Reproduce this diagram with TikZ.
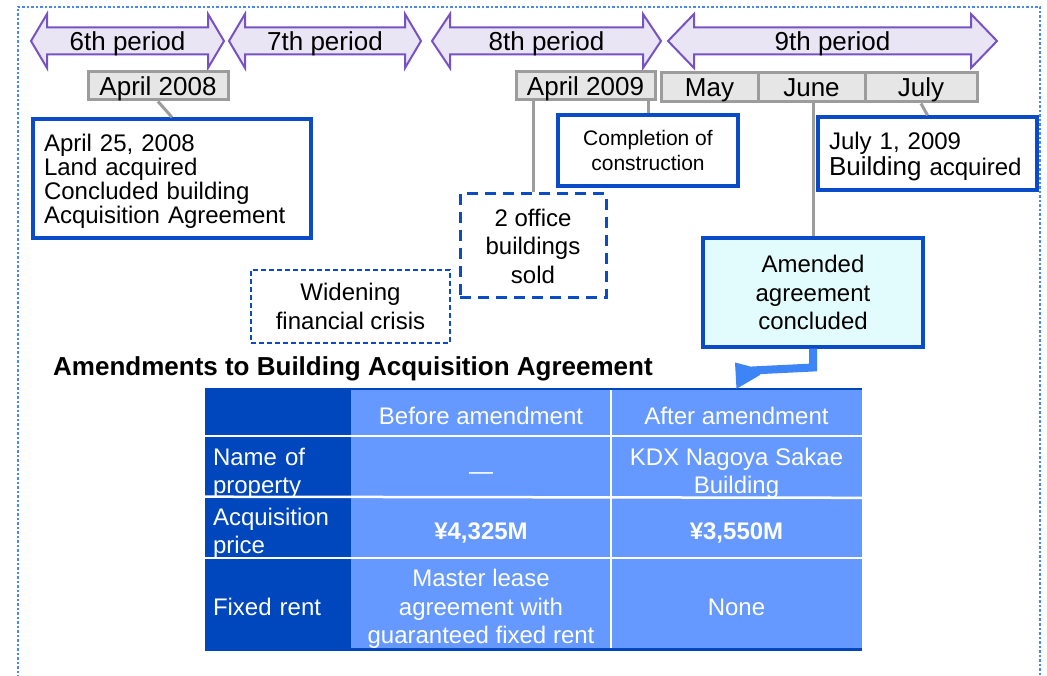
\documentclass[tikz,border=0pt]{standalone}
\usepackage{fontspec}
\setmainfont{Liberation Sans}
\usetikzlibrary{arrows.meta}
\definecolor{lav}{HTML}{E9E5F5}
\definecolor{purp}{HTML}{7752C4}
\definecolor{gbox}{HTML}{E6E6E6}
\definecolor{gline}{HTML}{9C9C9C}
\definecolor{bbord}{HTML}{0A4BC8}
\definecolor{dotb}{HTML}{4A88EC}
\definecolor{cyanf}{HTML}{E2FCFD}
\definecolor{tdark}{HTML}{0047BE}
\definecolor{tlight}{HTML}{6699FF}
\definecolor{arrb}{HTML}{3D84F6}
\newcommand\fsz[2]{\fontsize{#1}{#2}\selectfont}
% text block with fixed top / bottom struts (for cap-centred text)
\newcommand\ctr[3]{\rule{0pt}{#1}#3\rule[-#2]{0pt}{#2}}
\newcommand\ev[1]{\ctr{25.2pt}{8pt}{#1}}
\newcommand\tc[1]{\ctr{28.7pt}{5.5pt}{#1}}
\newcommand\perarrow[3]{%
  \draw[perarr] (#1,41) -- (#1+#3,14) -- (#1+#3,27.5) -- (#2-#3,27.5) -- (#2-#3,14) -- (#2,41)
    -- (#2-#3,68) -- (#2-#3,54.5) -- (#1+#3,54.5) -- (#1+#3,68) -- cycle;}
\begin{document}
\begin{tikzpicture}[x=1pt,y=-1pt,
  perarr/.style={draw=purp,fill=lav,line width=2pt,line join=miter},
  perlbl/.style={font=\fsz{26}{28},inner sep=0pt,text height=18.6pt,text depth=0pt},
  datebox/.style={draw=gline,fill=gbox,line width=3pt,inner sep=0pt,font=\fsz{26}{28},text height=18.6pt,text depth=0pt},
  evbox/.style={draw=bbord,fill=white,line width=3.5pt,inner sep=0pt,align=center},
  gconn/.style={draw=gline,line width=3pt},
  cell/.style={fill=tlight,inner sep=0pt,text=white,align=center,font=\fsz{24}{28}},
  hcell/.style={cell,fill=tdark,align=left,inner xsep=8pt,text width=130pt},
  wline/.style={draw=white,line width=2.5pt},
]
\useasboundingbox (0,0) rectangle (1047,676);
\fill[white] (0,0) rectangle (1047,676);
% outer dotted frame
\draw[dotb,line width=2.5pt,dash pattern=on 2.5pt off 2pt] (18,700) -- (18,7) -- (1040,7) -- (1040,700);

% period arrows
\perarrow{31}{224}{16}
\perarrow{229}{421}{16}
\perarrow{432}{661}{18}
\perarrow{668}{997}{26}
\node[perlbl] (p6) at (127.5,41.5) {6th period};
\node[perlbl] (p7) at (325,41.5) {7th period};
\node[perlbl] (p8) at (546.5,41.5) {8th period};
\node[perlbl] (p9) at (832.5,41.5) {9th period};

% date boxes
\node[datebox,minimum width=140pt,minimum height=28pt] (d08) at (158,86) {April 2008};
\node[datebox,minimum width=139pt,minimum height=28pt] (d09) at (585.5,86) {April 2009};
\node[datebox,minimum width=97pt,minimum height=29pt] (may) at (709.5,87.5) {May};
\node[datebox,minimum width=107pt,minimum height=29pt] (june) at (811.5,87.5) {June};
\node[datebox,minimum width=112pt,minimum height=29pt] (july) at (921,87.5) {July};

% event boxes
\node[evbox,align=left,text width=256pt,inner xsep=11pt,minimum height=119pt,font=\fsz{24}{24}] (b08) at (172,178.5)
  {\ev{April 25, 2008\\Land acquired\\Concluded building\\Acquisition Agreement}};
\node[evbox,minimum width=180pt,minimum height=71pt,font=\fsz{21}{25}] (cmp) at (648,150.5)
  {\ctr{22pt}{7pt}{Completion of\\construction}};
\node[evbox,align=left,text width=197pt,inner xsep=11pt,minimum height=73pt,font=\fsz{24}{26}] (j1) at (927.5,153.5)
  {\ev{July 1, 2009\\{\fsz{26}{26}Building} acquired}};
\node[evbox,line width=3pt,dash pattern=on 11pt off 7pt,minimum width=146pt,minimum height=104pt,font=\fsz{24}{28.5}] (off) at (533,246)
  {\ev{2 office\\buildings\\sold}};
\node[evbox,line width=1.5pt,dash pattern=on 5pt off 3pt,minimum width=199pt,minimum height=73pt,font=\fsz{24}{29}] (wid) at (350.5,306.5)
  {\ev{Widening\\financial crisis}};
\node[evbox,fill=cyanf,minimum width=220pt,minimum height=109pt,font=\fsz{24}{28.5}] (amd) at (813,292.5)
  {\ev{Amended\\agreement\\concluded}};

% gray connectors
\draw[gconn] (d08.south) -- (b08.north);
\draw[gconn] (off.north |- d09.south) -- (off.north);
\draw[gconn] (cmp.north |- d09.south) -- (cmp.north);
\draw[gconn] (amd.north |- june.south) -- (amd.north);
\draw[gconn] (july.south) -- (j1.north);

% title
\node[anchor=west,inner sep=0pt,font=\bfseries\fsz{26}{28},text height=18.6pt,text depth=0pt] (ttl) at (53,366.5) {Amendments to Building Acquisition Agreement};

% table
\node[hcell,minimum height=48pt] (t00) at (278,413) {};
\node[cell,minimum width=260pt,minimum height=48pt] (t01) at (481,413) {\tc{Before amendment}};
\node[cell,minimum width=251pt,minimum height=48pt] (t02) at (736.5,413) {\tc{After amendment}};
\node[hcell,minimum height=61pt] (t10) at (278,467.5) {\tc{Name of\\property}};
\node[cell,minimum width=260pt,minimum height=61pt] (t11) at (481,467.5) {\tc{—}};
\node[cell,minimum width=251pt,minimum height=61pt] (t12) at (736.5,467.5) {\tc{KDX Nagoya Sakae\\Building}};
\node[hcell,minimum height=60pt] (t20) at (278,528) {\tc{Acquisition\\price}};
\node[cell,minimum width=260pt,minimum height=60pt] (t21) at (481,528) {\tc{\bfseries ¥4,325M}};
\node[cell,minimum width=251pt,minimum height=60pt] (t22) at (736.5,528) {\tc{\bfseries ¥3,550M}};
\node[hcell,minimum height=91pt] (t30) at (278,603.5) {\tc{Fixed rent}};
\node[cell,minimum width=260pt,minimum height=91pt,font=\fsz{24}{28.5}] (t31) at (481,603.5) {\tc{Master lease\\agreement with\\guaranteed fixed rent}};
\node[cell,minimum width=251pt,minimum height=91pt] (t32) at (736.5,603.5) {\tc{None}};
\draw[wline] (t10.north west) -- (t12.north east);
\draw[wline] (t20.north west) -- (t22.north east);
\draw[wline] (t30.north west) -- (t32.north east);
\draw[wline] (t02.north west) -- (t32.south west);
\draw[tdark,line width=1.5pt] (t00.north west) -- (t02.north east);
\draw[tdark,line width=3pt] (t30.south west) -- (t32.south east);

% blue elbow connector from amended box to table
\coordinate (elb) at (813,367.5);
\coordinate (hb) at (752,370.5);
\draw[arrb,line width=8pt,line join=miter] (amd.south) -- (elb) -- (hb);
\fill[arrb] (735,362.5) -- (760,369) -- (760,375) -- (t02.north -| 736.5,0) -- cycle;
\end{tikzpicture}
\end{document}
